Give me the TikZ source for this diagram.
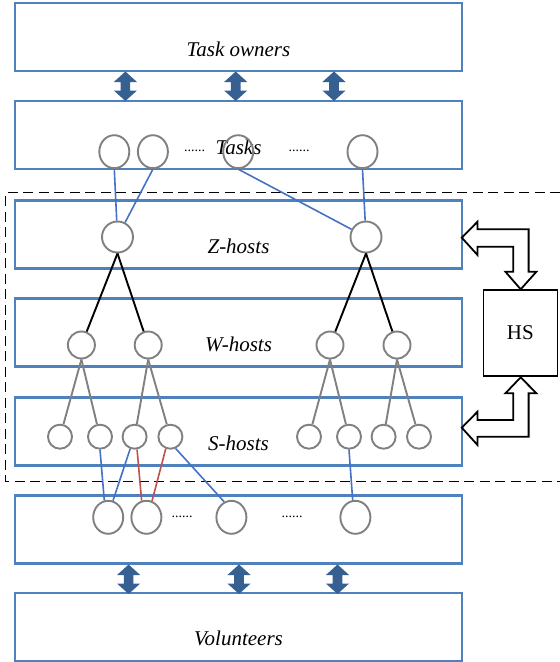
\documentclass[tikz,border=0pt]{standalone}
\usepackage{fontspec}
\setmainfont{Liberation Serif}
\usetikzlibrary{shapes.geometric}
\definecolor{layerblue}{RGB}{79,129,189}
\definecolor{arrowblue}{RGB}{55,96,146}
\definecolor{linkblue}{RGB}{68,114,196}
\definecolor{linkred}{RGB}{192,80,77}
\definecolor{nodegray}{RGB}{128,128,128}
\begin{document}
\begin{tikzpicture}[x=1pt,y=-1pt,
  layer/.style={draw=layerblue,line width=2.8pt,minimum width=447pt,minimum height=68pt,inner sep=0pt},
  lbl/.style={font=\fontsize{21}{24}\selectfont\itshape,inner sep=0pt},
  dotsep/.style={font=\fontsize{14}{16}\selectfont,inner sep=0pt},
  peer/.style={ellipse,draw=nodegray,line width=1.9pt,minimum width=30pt,minimum height=33pt,inner sep=0pt},
  zhost/.style={circle,draw=nodegray,line width=1.9pt,minimum size=31pt,inner sep=0pt},
  whost/.style={circle,draw=nodegray,line width=1.9pt,minimum size=27pt,inner sep=0pt},
  shost/.style={circle,draw=nodegray,line width=1.9pt,minimum size=24pt,inner sep=0pt},
  link/.style={draw=linkblue,line width=1.6pt},
  redlink/.style={draw=linkred,line width=1.6pt},
  tree/.style={draw=black,line width=1.9pt},
  subtree/.style={draw=nodegray,line width=1.9pt},
  blockarrow/.style={draw=black,fill=white,line width=1.8pt,line join=miter},
  dblarrow/.pic={\fill[arrowblue] (0,0) -- (11.6,10.5) -- (4.8,10.5) -- (4.8,19) -- (11.6,19)
      -- (0,29.5) -- (-11.6,19) -- (-4.8,19) -- (-4.8,10.5) -- (-11.6,10.5) -- cycle;}
]
\useasboundingbox (0,0) rectangle (560,662);

% hosting area frame
\draw[line width=1.7pt,dash pattern=on 10pt off 5.5pt] (560,192.5) -- (5.5,192.5) -- (5.5,481.5) -- (560,481.5);

% layers
\node[layer] (owners) at (238.5,37) {};
\node[layer] (tasks) at (238.5,135) {};
\node[layer] (zl) at (238.5,234.5) {};
\node[layer] (wl) at (238.5,332.5) {};
\node[layer] (sl) at (238.5,431.5) {};
\node[layer] (pl) at (238.5,529.5) {};
\node[layer] (vol) at (238.5,627) {};

\node[lbl] (ownerstxt) at (238.5,49.7) {Task owners};
\node[lbl] (taskstxt) at (238.5,147.5) {Tasks};
\node[lbl] (ztxt) at (238.5,246) {Z-hosts};
\node[lbl] (wtxt) at (238.5,344) {W-hosts};
\node[lbl] (stxt) at (238.5,443.3) {S-hosts};
\node[lbl] (voltxt) at (238.5,638.7) {Volunteers};

% two-way links between layers
\foreach \x in {125.4,235.7,334} \pic at (\x,71.5) {dblarrow};
\foreach \x in {128.6,239,337.5} \pic at (\x,564.5) {dblarrow};

% tasks
\node[peer] (t1) at (114.3,151.7) {};
\node[peer] (t2) at (152.9,151.7) {};
\node[peer] (t3) at (238.2,151.7) {};
\node[peer] (t4) at (362.5,151.7) {};
\node[dotsep] (td1) at (194.6,150.7) {......};
\node[dotsep] (td2) at (299,150.7) {......};

% hosts
\node[zhost] (z1) at (117.5,237) {};
\node[zhost] (z2) at (366,237) {};
\node[whost] (w1) at (81.4,345) {};
\node[whost] (w2) at (148.2,345) {};
\node[whost] (w3) at (330,345) {};
\node[whost] (w4) at (397,345) {};
\node[shost] (s1) at (60,436.7) {};
\node[shost] (s2) at (100,436.7) {};
\node[shost] (s3) at (134.6,436.7) {};
\node[shost] (s4) at (170.4,436.7) {};
\node[shost] (s5) at (309,436.7) {};
\node[shost] (s6) at (349,436.7) {};
\node[shost] (s7) at (383.6,436.7) {};
\node[shost] (s8) at (419,436.7) {};

% volunteer peers
\node[peer] (b1) at (108.2,517.3) {};
\node[peer] (b2) at (146.4,517.3) {};
\node[peer] (b3) at (231.4,517.3) {};
\node[peer] (b4) at (355.4,517.3) {};
\node[dotsep] (bd1) at (182,516.7) {......};
\node[dotsep] (bd2) at (292,516.7) {......};

% task to Z-host links
\draw[link] (t1.south) -- (z1);
\draw[link] (t2.south) -- (z1);
\draw[link] (t3.south) -- (z2);
\draw[link] (t4.south) -- (z2);

% host tree
\draw[tree] (z1.south) -- (w1);
\draw[tree] (z1.south) -- (w2);
\draw[tree] (z2.south) -- (w3);
\draw[tree] (z2.south) -- (w4);
\draw[subtree] (w1.south) -- (s1);
\draw[subtree] (w1.south) -- (s2);
\draw[subtree] (w2.south) -- (s3);
\draw[subtree] (w2.south) -- (s4);
\draw[subtree] (w3.south) -- (s5);
\draw[subtree] (w3.south) -- (s6);
\draw[subtree] (w4.south) -- (s7);
\draw[subtree] (w4.south) -- (s8);

% S-host to volunteer links
\draw[link] (s2.south) -- (b1.103);
\draw[link] (s3.250) -- (b1.74);
\draw[redlink] (s3.281) -- (b2.106);
\draw[redlink] (s4.249) -- (b2.71);
\draw[link] (s4.294) -- (b3.115);
\draw[link] (s6.south) -- (b4.99);

% HS box and its block arrows
\node[draw=black,line width=1.3pt,minimum width=74pt,minimum height=86pt,inner sep=0pt,
      font=\fontsize{21}{24}\selectfont] (hs) at (520.3,333) {HS};
\draw[blockarrow] (461.8,237.7) -- (477.5,221.7) -- (477.5,229.3) -- (528.6,229.3) -- (528.6,271.7)
  -- (536.4,271.7) -- (520.7,289.3) -- (505.4,271.7) -- (513.2,271.7) -- (513.2,246.7)
  -- (477.5,246.7) -- (477.5,255) -- cycle;
\draw[blockarrow] (461.8,427.7) -- (477.5,411.7) -- (477.5,420) -- (513.2,420) -- (513.2,393.3)
  -- (505.4,393.3) -- (520.7,377.3) -- (536.4,393.3) -- (528.6,393.3) -- (528.6,436.7)
  -- (477.5,436.7) -- (477.5,445) -- cycle;
\end{tikzpicture}
\end{document}
